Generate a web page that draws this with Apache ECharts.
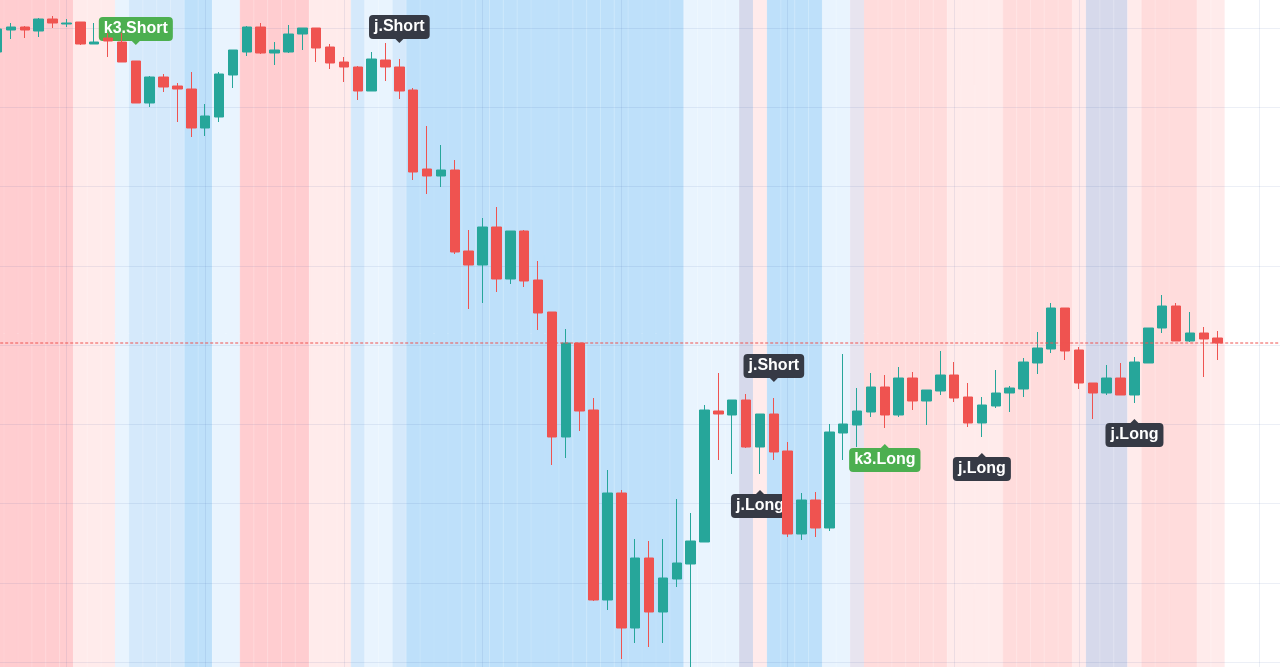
<!DOCTYPE html>
<html>
<head>
<meta charset="utf-8">
<script src="https://cdn.jsdelivr.net/npm/echarts@6/dist/echarts.min.js"></script>
<style>
html, body { margin: 0; padding: 0; background: #ffffff; }
#chart { width: 1280px; height: 667px; }
</style>
</head>
<body>
<div id="chart"></div>
<script>
// ---- data ----
const barNumbers = Array.from({ length: 93 }, (_, i) => String(i + 1));

const opens = [1561,1583,1586,1582,1594,1589,1591,1569,1575,1571,1552,1510,1536,1527,1524,1485,1496,1538,1561,1586,
  1560,1561,1579,1585,1566,1551,1546,1522,1553,1546,1523,1444,1437,1443,1362,1348,1386,1334,1382,1333,
  1301,1176,1270,1203,1013,1120,985,1055,1001,1034,1049,1071,1202,1198,1213,1166,1199,1162,1079,1113,
  1085,1180,1188,1201,1226,1198,1235,1212,1222,1238,1216,1190,1207,1220,1224,1250,1264,1305,1263,1230,
  1220,1235,1218,1250,1285,1307,1272,1280,1275];
const closes = [1584,1586,1583,1594,1590,1590,1569,1571,1572,1551,1510,1536,1526,1524,1485,1497,1539,1563,1586,1560,
  1563,1579,1585,1565,1550,1546,1522,1554,1546,1522,1441,1437,1443,1361,1348,1386,1334,1382,1332,1300,
  1176,1270,1202,1013,1120,985,1055,1001,1035,1050,1072,1203,1199,1213,1166,1199,1161,1079,1113,1085,
  1181,1189,1202,1226,1198,1235,1212,1223,1238,1215,1190,1208,1220,1225,1251,1265,1305,1262,1230,1220,
  1235,1218,1251,1285,1307,1272,1280,1274,1270];
const lows = [1560,1574,1575,1576,1585,1586,1568,1569,1556,1551,1510,1506,1521,1491,1476,1477,1491,1525,1557,1559,
  1548,1560,1563,1551,1544,1531,1513,1522,1532,1514,1433,1419,1426,1359,1304,1310,1321,1329,1326,1283,
  1148,1155,1182,1012,1003,954,970,966,970,1026,943,1071,1153,1139,1165,1139,1153,1076,1073,1076,
  1082,1153,1166,1196,1185,1196,1203,1188,1218,1211,1186,1176,1205,1201,1216,1239,1260,1253,1224,1194,
  1218,1218,1210,1250,1280,1272,1271,1236,1253];
const highs = [1586,1590,1587,1595,1597,1594,1591,1590,1580,1580,1552,1537,1539,1530,1541,1509,1541,1563,1587,1590,
  1571,1588,1585,1585,1569,1556,1547,1561,1570,1554,1525,1487,1468,1453,1383,1395,1406,1382,1383,1352,
  1301,1284,1270,1215,1143,1123,1074,1072,1074,1114,1100,1208,1240,1213,1219,1199,1215,1171,1120,1121,
  1189,1259,1225,1240,1238,1246,1241,1223,1262,1251,1230,1216,1243,1227,1255,1281,1310,1305,1266,1230,
  1248,1250,1256,1285,1318,1310,1301,1286,1282];

// background state of every bar (R strong red, M mid red, r light red, B strong blue, m mid blue, b light blue, g/h grey-violet)
const bandStates = ("RRRRRR" + "rrr" + "b" + "mmmm" + "BB" + "bb" + "RRRRR" + "rrr" + "m" + "bb" + "m" +
  "BBBBBBBBBBBBBBBBBBBB" + "bbbb" + "g" + "r" + "BBBB" + "bb" + "h" + "MMMMMM" + "rrrr" + "MMMMM" + "r" +
  "ggg" + "r" + "MMMM" + "rr").split("");

// vertical grid lines (bar index) and signal labels
const vGridBars = [5, 15, 25, 35, 45, 57, 69, 78, 91];
const labelBars = [10, 29, 56, 55, 64, 71, 82];
const labelTexts = ["k3.Short", "j.Short", "j.Short", "j.Long", "k3.Long", "j.Long", "j.Long"];
const labelSides = ["above", "above", "above", "below", "below", "below", "below"];
const labelKinds = ["k3", "j", "j", "j", "k3", "j", "j"];

// ---- styles ----
const bandColors = {
  R: "#ffcdd0", M: "#ffdcdc", r: "#ffebeb",
  B: "#bee0fa", m: "#d5e9fb", b: "#e9f4fe",
  g: "#d6d9eb", h: "#e7e4ef"
};
const gridColor = "rgba(42,80,150,0.09)";
const upColor = "#26a69a";
const downColor = "#ef5350";

const chart = echarts.init(document.getElementById("chart"), null, { renderer: "canvas" });

const bandData = barNumbers.map((_, i) => {
  const s = bandStates[i];
  if (!s) return "-";
  return { value: 1, itemStyle: { color: bandColors[s], borderColor: bandColors[s], borderWidth: 1 } };
});

const candleData = opens.map((o, i) => [o, closes[i], lows[i], highs[i]]);
const labelData = labelBars.map((b, i) => [b, labelSides[i] === "above" ? highs[b] : lows[b]]);

function renderLabel(params, api) {
  const i = params.dataIndex;
  const pt = api.coord([api.value(0), api.value(1)]);
  const above = labelSides[i] === "above";
  const color = labelKinds[i] === "k3" ? "#4caf50" : "#363a45";
  const gap = 16, tri = 4, half = 5;
  const tipY = above ? pt[1] - gap : pt[1] + gap;
  const baseY = above ? tipY - tri : tipY + tri;
  return {
    type: "group",
    children: [
      {
        type: "polygon",
        shape: { points: [[pt[0], tipY], [pt[0] - half, baseY + (above ? -1 : 1)], [pt[0] + half, baseY + (above ? -1 : 1)]] },
        style: { fill: color }
      },
      {
        type: "text",
        x: pt[0],
        y: baseY,
        style: {
          text: labelTexts[i],
          fill: "#ffffff",
          font: 'bold 16px "Liberation Sans", Arial, sans-serif',
          align: "center",
          verticalAlign: above ? "bottom" : "top",
          backgroundColor: color,
          padding: [4, 5, 4, 5],
          borderRadius: 4,
          lineHeight: 16
        }
      }
    ]
  };
}

// price line drawn as a custom element across the whole grid at the last close
function renderPriceLine(params, api) {
  const y = api.coord([0, api.value(1)])[1];
  const cs = params.coordSys;
  return {
    type: "line",
    shape: { x1: cs.x, y1: y, x2: cs.x + cs.width, y2: y },
    style: { stroke: downColor, lineWidth: 1, lineDash: [3, 2] }
  };
}

chart.setOption({
  animation: false,
  backgroundColor: "#ffffff",
  grid: { left: -9.8, right: -0.1, top: -51.25, bottom: -74.25, outerBoundsMode: "none", containLabel: false },
  xAxis: {
    type: "category",
    data: barNumbers,
    boundaryGap: true,
    axisLine: { show: false }, axisTick: { show: false }, axisLabel: { show: false }, splitLine: { show: false }
  },
  yAxis: [
    {
      type: "value",
      min: 871.75, max: 1664.25, interval: 79.25,
      z: 1,
      axisLine: { show: false }, axisTick: { show: false }, axisLabel: { show: false },
      splitLine: { show: true, lineStyle: { color: gridColor, width: 1 } }
    },
    { type: "value", min: 0, max: 1, show: false, splitLine: { show: false } }
  ],
  series: [
    {
      name: "bands",
      type: "bar",
      xAxisIndex: 0, yAxisIndex: 1,
      barWidth: "100%",
      silent: true,
      z: 0,
      data: bandData,
      markLine: {
        silent: true, symbol: "none", z: 1, animation: false,
        label: { show: false },
        lineStyle: { color: gridColor, width: 1, type: "solid" },
        data: vGridBars.map(b => ({ xAxis: b }))
      }
    },
    {
      name: "signals",
      type: "custom",
      xAxisIndex: 0, yAxisIndex: 0,
      z: 2,
      clip: false,
      silent: true,
      renderItem: renderLabel,
      encode: { x: 0, y: 1 },
      data: labelData
    },
    {
      name: "price",
      type: "candlestick",
      xAxisIndex: 0, yAxisIndex: 0,
      z: 3,
      barWidth: 10,
      data: candleData,
      itemStyle: { color: upColor, color0: downColor, borderColor: upColor, borderColor0: downColor, borderWidth: 1 }
    },
    {
      name: "last",
      type: "custom",
      xAxisIndex: 0, yAxisIndex: 0,
      z: 4,
      clip: false,
      silent: true,
      renderItem: renderPriceLine,
      encode: { x: 0, y: 1 },
      data: [[closes.length - 1, closes[closes.length - 1]]]
    }
  ]
});
</script>
</body>
</html>
